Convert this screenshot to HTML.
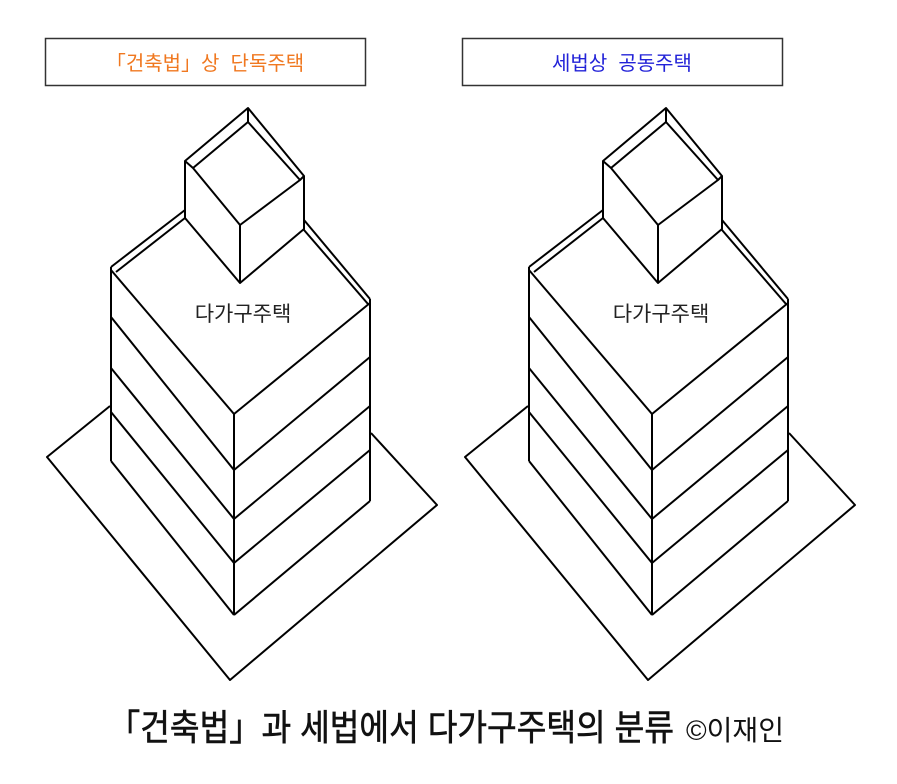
<!DOCTYPE html>
<html><head><meta charset="utf-8"><style>
html,body{margin:0;padding:0;background:#fff;}
svg{display:block;}
text{font-family:"Liberation Sans","Noto Sans CJK KR",sans-serif;}
</style></head><body>
<svg width="897" height="784" viewBox="0 0 897 784" xmlns="http://www.w3.org/2000/svg">
<defs>
<g id="b" fill="none" stroke="#000" stroke-width="2" stroke-linejoin="round">
  <polyline points="110,406 47,457 230,680 437,505 371,433"/>
  <line x1="111" y1="267" x2="111" y2="461"/>
  <line x1="234" y1="414" x2="234" y2="615"/>
  <line x1="370" y1="299" x2="370" y2="501"/>
  <line x1="111" y1="270" x2="234" y2="414"/>
  <line x1="111" y1="317" x2="234" y2="470"/>
  <line x1="111" y1="368" x2="234" y2="519"/>
  <line x1="111" y1="412" x2="234" y2="563"/>
  <line x1="111" y1="461" x2="234" y2="615"/>
  <line x1="234" y1="414" x2="370" y2="303"/>
  <line x1="234" y1="470" x2="370" y2="357"/>
  <line x1="234" y1="519" x2="370" y2="406"/>
  <line x1="234" y1="563" x2="370" y2="450"/>
  <line x1="234" y1="615" x2="370" y2="501"/>
  <line x1="111" y1="267" x2="185" y2="210"/>
  <line x1="116" y1="272" x2="185" y2="218"/>
  <line x1="304" y1="220" x2="370" y2="299"/>
  <line x1="304" y1="230" x2="368" y2="304"/>
  <polyline points="185,218 185,161 248,108 304,176 304,229 240,283 185,218"/>
  <line x1="240" y1="225" x2="240" y2="283"/>
  <polyline points="193,168 248,122 300,180"/>
  <line x1="248" y1="108" x2="248" y2="122"/>
  <polyline points="185,161 193,168 240,225 300,180 304,176"/>
</g>
</defs>
<use href="#b"/>
<use href="#b" transform="translate(418,0)"/>
<rect x="45.5" y="38.5" width="320" height="47" fill="#fff" stroke="#333" stroke-width="1.5"/>
<rect x="462.5" y="38.5" width="320" height="47" fill="#fff" stroke="#333" stroke-width="1.5"/>
<text x="205" y="70" font-size="20" fill="#f07820" text-anchor="middle">「건축법」상&#160;&#160;단독주택</text>
<text x="622" y="70" font-size="20" fill="#2323d8" text-anchor="middle">세법상&#160;&#160;공동주택</text>
<text x="243" y="321" font-size="21" fill="#222" text-anchor="middle">다가구주택</text>
<text x="661" y="321" font-size="21" fill="#222" text-anchor="middle">다가구주택</text>
<text x="108" y="740" font-size="36" fill="#111" stroke="#111" stroke-width="0.6" textLength="566" lengthAdjust="spacingAndGlyphs">「건축법」과 세법에서 다가구주택의 분류</text>
<text x="686" y="740" font-size="28" fill="#111" textLength="98" lengthAdjust="spacingAndGlyphs">©이재인</text>
</svg>
</body></html>
